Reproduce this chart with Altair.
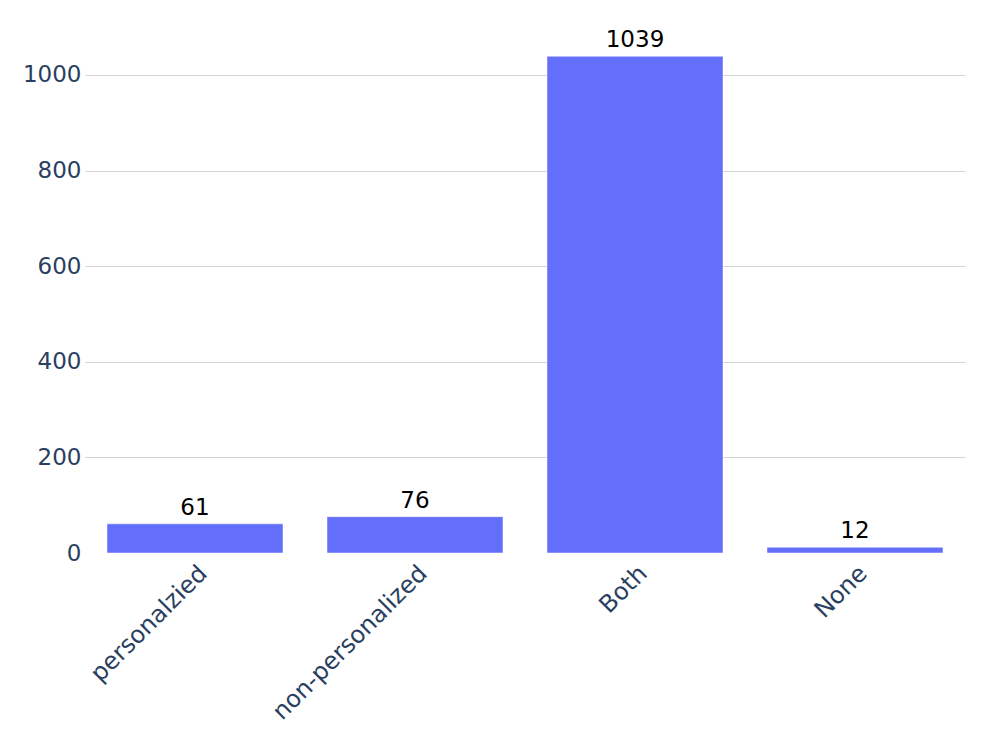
import altair as alt
import pandas as pd

categories = ["personalzied", "non-personalized", "Both", "None"]
counts = [61, 76, 1039, 12]
y_ticks = [0, 200, 400, 600, 800, 1000]

df = pd.DataFrame({"category": categories, "count": counts})

FONT = "DejaVu Sans"
FS = 23

base = alt.Chart(df).encode(
    x=alt.X(
        "category:N",
        sort=categories,
        scale=alt.Scale(paddingInner=0.2, paddingOuter=0.1),
        axis=alt.Axis(
            title=None,
            labelAngle=-45,
            labelFontSize=24,
            labelColor="#2a3f5f",
            labelFont=FONT,
            labelLimit=0,
            ticks=False,
            domain=False,
            labelPadding=8,
            grid=False,
        ),
    ),
    y=alt.Y(
        "count:Q",
        scale=alt.Scale(domain=[0, 1094], nice=False),
        axis=alt.Axis(
            title=None,
            values=y_ticks,
            format="d",
            labelFontSize=FS,
            labelColor="#2a3f5f",
            labelFont=FONT,
            ticks=False,
            domain=False,
            labelPadding=4,
            gridColor=alt.condition("datum.value === 0", alt.value("#ffffff"), alt.value("#d3d3d3")),
            gridWidth=1,
        ),
    ),
)

bars = base.mark_bar(color="#636efa", stroke="#ffffff", strokeWidth=0.5)
labels = base.mark_text(
    dy=-4, baseline="bottom", fontSize=FS, font=FONT, color="#000000"
).encode(text="count:Q")

chart = (
    (bars + labels)
    .properties(
        width=880,
        height=523,
        autosize=alt.AutoSizeParams(type="none"),
        padding={"left": 77, "top": 22, "right": 24, "bottom": 178},
        background="white",
    )
    .configure_view(strokeWidth=0, stroke="transparent")
)

chart.save("out.html", embed_options={"renderer": "svg", "actions": False})
